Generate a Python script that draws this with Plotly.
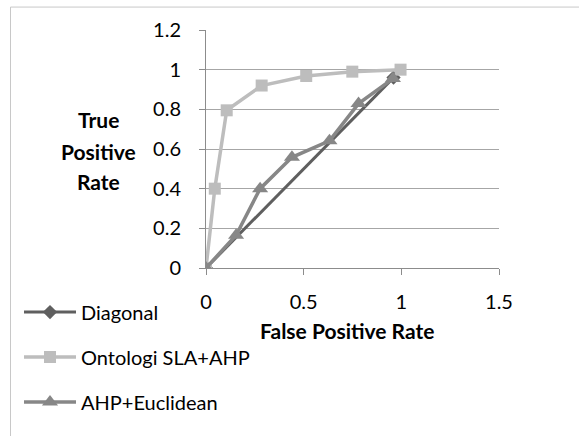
import plotly.graph_objects as go

diag_x = [0, 0.96]
diag_y = [0, 0.96]

onto_x = [0, 0.045, 0.106, 0.285, 0.513, 0.749, 0.996]
onto_y = [0, 0.40, 0.795, 0.92, 0.968, 0.99, 1.0]

ahp_x = [0, 0.154, 0.277, 0.44, 0.632, 0.781, 0.957]
ahp_y = [0, 0.165, 0.40, 0.558, 0.641, 0.829, 0.955]

names = ["Diagonal", "Ontologi SLA+AHP", "AHP+Euclidean"]
colors = ["#5f5f5f", "#bdbdbd", "#878787"]
ytitle_lines = ["True", "Positive", "Rate"]
xtitle = "False Positive Rate"

FONT = "Lato, 'Open Sans', sans-serif"
FS = 20

fig = go.Figure()
fig.add_trace(go.Scatter(x=diag_x, y=diag_y, mode="lines+markers", name=names[0],
                         line=dict(color=colors[0], width=3),
                         marker=dict(symbol="diamond", size=11, color=colors[0]),
                         legendgroup="a"))
fig.add_trace(go.Scatter(x=onto_x, y=onto_y, mode="lines+markers", name=names[1],
                         line=dict(color=colors[1], width=3.5),
                         marker=dict(symbol="square", size=12, color=colors[1]),
                         legendgroup="b"))
fig.add_trace(go.Scatter(x=ahp_x, y=ahp_y, mode="lines+markers", name=names[2],
                         line=dict(color=colors[2], width=3.5),
                         marker=dict(symbol="triangle-up", size=14, color=colors[2]),
                         legendgroup="c"))

L, R, T, B = 206, 80, 29.5, 167.7
W, H = 579, 436
pw = W - L - R
ph = H - T - B

def px2paper_x(px):
    return (px - L) / pw

def px2paper_y(py):
    return 1 - (py - T) / ph

annotations = []
for txt, ypx in zip(ytitle_lines, [119, 151, 182]):
    annotations.append(dict(text="<b>%s</b>" % txt, xref="paper", yref="paper",
                            x=px2paper_x(98), y=px2paper_y(ypx), xanchor="center", yanchor="middle",
                            showarrow=False, font=dict(family=FONT, size=21, color="black")))
annotations.append(dict(text="<b>%s</b>" % xtitle, xref="paper", yref="paper",
                        x=px2paper_x(347), y=px2paper_y(331), xanchor="center", yanchor="middle",
                        showarrow=False, font=dict(family=FONT, size=21, color="black")))

fig.update_layout(
    width=W, height=H,
    margin=dict(l=L, r=R, t=T, b=B, pad=0, autoexpand=False),
    paper_bgcolor="white", plot_bgcolor="white",
    font=dict(family=FONT, size=FS, color="black"),
    showlegend=True,
    legend=dict(x=px2paper_x(19), y=px2paper_y(293), xanchor="left", yanchor="top",
                font=dict(family=FONT, size=FS, color="black"),
                tracegroupgap=16, itemwidth=52, bgcolor="rgba(0,0,0,0)"),
    xaxis=dict(range=[0, 1.5], tickvals=[0, 0.5, 1, 1.5], ticktext=["0", "0.5", "1", "1.5"],
               showgrid=False, zeroline=False, showline=True, linecolor="#8c8c8c", linewidth=1,
               ticks="outside", ticklen=6, tickcolor="#8c8c8c", automargin=False,
               ticklabelstandoff=10, tickfont=dict(size=FS)),
    yaxis=dict(range=[0, 1.2], tickvals=[0, 0.2, 0.4, 0.6, 0.8, 1, 1.2],
               ticktext=["0", "0.2", "0.4", "0.6", "0.8", "1", "1.2"],
               showgrid=True, gridcolor="#a6a6a6", gridwidth=1, automargin=False,
               zeroline=False, showline=True, linecolor="#8c8c8c", linewidth=1,
               ticks="outside", ticklen=6, tickcolor="#8c8c8c",
               ticklabelstandoff=14, tickfont=dict(size=FS)),
    annotations=annotations,
    shapes=[
        dict(type="line", xref="paper", yref="paper", x0=px2paper_x(10.5), x1=px2paper_x(600),
             y0=px2paper_y(6.5), y1=px2paper_y(6.5), line=dict(color="#c8c8c8", width=1)),
        dict(type="line", xref="paper", yref="paper", x0=px2paper_x(10.5), x1=px2paper_x(10.5),
             y0=px2paper_y(6.5), y1=px2paper_y(460), line=dict(color="#c8c8c8", width=1)),
    ],
)

fig.write_html("out.html", config={"displayModeBar": False},
               post_script="document.body.style.margin='0px';document.body.style.overflow='hidden';")
